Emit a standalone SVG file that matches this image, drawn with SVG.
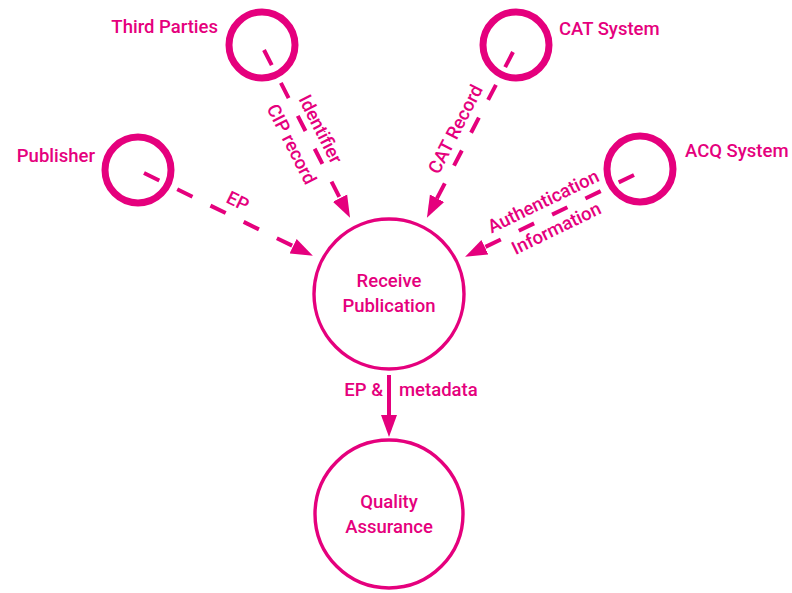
<svg xmlns="http://www.w3.org/2000/svg" width="792" height="593" viewBox="0 0 792 593">
  <defs>
    <style>
      text { font-family: Roboto, "Liberation Sans", Arial, sans-serif; font-weight: 500; font-size: 18.5px; fill: #E5007D; }
      .mid { text-anchor: middle; }
      .ext { fill: none; stroke: #E5007D; stroke-width: 7; }
      .proc { fill: none; stroke: #E5007D; stroke-width: 3.4; }
      .flow { fill: none; stroke: #E5007D; stroke-width: 4; stroke-dasharray: 17 20; marker-end: url(#head); }
      .solid { fill: none; stroke: #E5007D; stroke-width: 4; marker-end: url(#head); }
    </style>
    <marker id="head" markerUnits="userSpaceOnUse" viewBox="0 -9 22 18" markerWidth="22" markerHeight="18" refX="11" refY="0" orient="auto">
      <path d="M0,-8 L22,0 L0,8 z" fill="#E5007D"/>
    </marker>
  </defs>

  <!-- data flows -->
  <g id="connectors">
    <path class="flow" d="M264,50 L345,208"/>
    <path class="flow" d="M144,173 L303,251"/>
    <path class="flow" d="M513,52 L432,208"/>
    <path class="flow" d="M634,175 L475,252"/>
    <path class="solid" d="M389,375 L389,426"/>

    <text transform="translate(315,132) rotate(63)" class="mid">Identifier</text>
    <text transform="translate(286,147) rotate(63)" class="mid">CIP record</text>
    <text transform="translate(235,207) rotate(26)" class="mid">EP</text>
    <text transform="translate(461,132) rotate(-62.6)" class="mid">CAT Record</text>
    <text transform="translate(546,207) rotate(-25.9)" class="mid">Authentication</text>
    <text transform="translate(559,234) rotate(-25.9)" class="mid">Information</text>
    <text x="383" y="396" text-anchor="end">EP &amp;</text>
    <text x="399" y="396">metadata</text>
  </g>

  <!-- external entities -->
  <g id="third-parties">
    <circle class="ext" cx="262" cy="45" r="33"/>
    <text x="218" y="33" text-anchor="end">Third Parties</text>
  </g>
  <g id="publisher">
    <circle class="ext" cx="138" cy="170" r="33"/>
    <text x="95" y="162" text-anchor="end">Publisher</text>
  </g>
  <g id="cat-system">
    <circle class="ext" cx="516" cy="45" r="33"/>
    <text x="559" y="35">CAT System</text>
  </g>
  <g id="acq-system">
    <circle class="ext" cx="640" cy="169" r="33"/>
    <text x="685" y="157">ACQ System</text>
  </g>

  <!-- processes -->
  <g id="receive-publication">
    <circle class="proc" cx="389" cy="294" r="75"/>
    <text x="389" y="287" class="mid">Receive</text>
    <text x="389" y="312" class="mid">Publication</text>
  </g>
  <g id="quality-assurance">
    <circle class="proc" cx="389" cy="514" r="74"/>
    <text x="389" y="508" class="mid">Quality</text>
    <text x="389" y="533" class="mid">Assurance</text>
  </g>
</svg>
